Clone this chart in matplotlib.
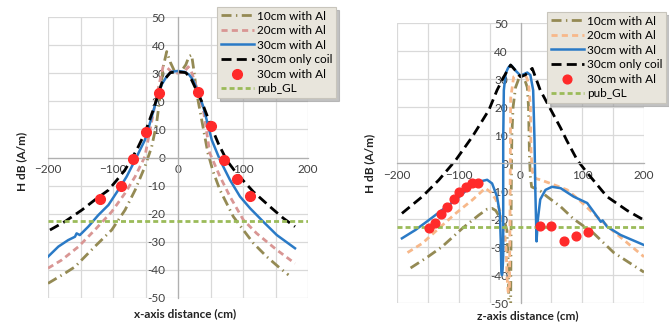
import matplotlib
matplotlib.use("Agg")
import matplotlib.pyplot as plt
from matplotlib.ticker import MultipleLocator, FuncFormatter

plt.rcParams['font.family'] = ['Lato', 'DejaVu Sans']

# ---------------- data: x-axis chart ----------------
xl_10 = [-200, -174, -158.5, -128, -102, -81.5, -66, -51, -40.5, -33, -27.7, -23, -17.4, -12, -6, 0, 6, 12, 17, 21, 25, 28.7, 36.5, 46, 54, 64.6, 85, 100.5, 116, 136.5, 157, 170]
yl_10 = [-44.8, -41.2, -38.9, -31.7, -25.8, -18.7, -11.6, -3.3, 3.8, 12, 21.6, 32, 37.7, 34, 31, 30.3, 31, 33, 36, 36.5, 30, 23, 13.3, 1.6, -5, -11.6, -21, -25.8, -30.5, -35.3, -39.4, -41.8]

xl_20 = [-200, -179, -153, -128, -102, -81.5, -66, -51, -38, -30, -23, -17, -10, 0, 10, 15.6, 20, 30, 39, 49, 64.6, 80, 100.5, 121, 152, 180]
yl_20 = [-39.4, -36.5, -31.7, -25.8, -19.3, -12.7, -6.8, 0.3, 15.8, 25, 32.3, 32, 30.5, 30, 30.5, 32.3, 31, 24, 16.9, 1.5, -6.8, -13.9, -22.2, -27, -32.9, -37.7]

xl_30 = [-200, -184, -169, -158.5, -156, -151, -138, -122.6, -107, -92, -79, -66, -51, -46, -33, -25, -17, -10, 0, 10, 17, 23, 30, 39, 52, 64.6, 80, 95.4, 111, 131, 152, 180]
yl_30 = [-35.3, -31.7, -29.4, -28.2, -27, -27.6, -24.6, -20.5, -16.9, -11.6, -6.8, -0.9, 6.2, 10, 20.5, 26, 29, 30.5, 30.8, 30.5, 29.5, 27.6, 24, 18, 6.2, -0.9, -8, -13.9, -18.1, -22.8, -27.6, -32.3]

xl_coil = [-197, -174, -148, -128, -107, -94, -81.5, -63.5, -51, -38, -25, -12, 0, 12, 21, 36.5, 52, 62, 75, 90, 116, 141.5, 162, 180]
yl_coil = [-25.8, -22.8, -18.7, -15.1, -11.6, -8, -4.4, 2.7, 8.7, 17, 26.5, 30.2, 30.5, 30.2, 27.6, 19.9, 10.5, 5, -1, -5.6, -12.2, -17.5, -21.6, -24.6]

xl_meas = [-120, -88, -69, -49, -29, 30, 50, 71, 90, 111]
yl_meas = [-14.8, -10, -0.5, 9.2, 23, 23.4, 11.2, -0.9, -7.7, -13.6]

# ---------------- data: z-axis chart ----------------
xr_10 = [-178, -150, -127, -94, -67.5, -54, -46, -40, -36, -26, -22, -20, -18.5, -16, -15, -14, -12, -8, -3, 3, 8, 11, 13, 14.6, 16, 18, 32, 43, 65, 86, 118, 151, 200]
yr_10 = [-37.5, -33.5, -29.9, -23.3, -18.6, -16.5, -16.2, -17, -18.5, -21, -24, -35, -55, -55, -10, 10, 20, 27, 30, 31, 29, 27, 20, 2, -5, -8.5, -10, -12, -15.6, -20, -25, -32, -39]

xr_20 = [-183, -159, -132, -105, -78, -57, -48, -40, -32, -26, -23, -22, -20, -18, -17, -16, -11, -5, 0, 5, 10, 13, 16, 17, 19, 24, 32, 48.6, 75.6, 94, 118, 151, 200]
yr_20 = [-32, -28.7, -23.3, -18, -13.2, -9, -10.5, -13, -18, -24, -32, -40, -46, -46, -20, 23, 30.8, 31.5, 31, 32, 30.5, 28.5, 20, 4.6, -3, -5.5, -6, -7.3, -9.6, -13, -18, -24.5, -33.5]

xr_30 = [-192, -170, -148.5, -127, -105, -84, -67.5, -54, -46, -38, -33.5, -32, -31, -30, -29, -28, -28, -27, -24, -20, -16, -13, -8, 0, 6, 11, 16, 20.5, 22.7, 24, 26, 28, 32, 40.5, 51, 65, 86, 108, 122, 130, 133, 140, 162, 200]
yr_30 = [-26.9, -23.9, -20.4, -16.8, -13.2, -9, -6.7, -6, -7.3, -12, -18, -27.5, -39, -40, -38, -33.5, 8, 26, 32, 34, 35, 34.4, 33, 31.2, 31.8, 32.3, 31.4, 26, 8, -9.6, -28, -20.4, -13, -9.6, -8.5, -9, -12, -14.3, -18.5, -21, -20.5, -22.7, -25.7, -29.3]

xr_coil = [-192, -159, -132, -105, -78, -65, -51, -38, -27, -16, -8, 0, 8, 19, 32, 43, 54, 65, 75, 92, 108, 140, 173, 200]
yr_coil = [-18, -12, -6, 1, 9.4, 14, 19, 26, 30.8, 35, 33, 30.8, 31.5, 33.8, 26, 21.5, 17, 12.5, 8, 1, -3.5, -12, -17, -20.4]

xr_meas = [-148.5, -138.8, -128.5, -118.8, -108, -98.8, -88, -78.3, -69, 31, 50, 70, 90, 110]
yr_meas = [-23.1, -21.3, -18.3, -15.8, -13, -10.2, -8.5, -7.3, -7, -22.4, -22.5, -27.9, -26, -24.5]

pub_gl = -22.7
labels = ["10cm with Al", "20cm with Al", "30cm with Al", "30cm only coil", "30cm with Al", "pub_GL"]

# ---------------- figure ----------------
fig = plt.figure(figsize=(6.69, 3.22), dpi=100)
axL = fig.add_axes([48/669, 24/322, 260/669, 281/322])
axR = fig.add_axes([397/669, 19/322, 247/669, 280/322])

C10 = '#948a54'
C30 = '#2a7ac6'
CGL = '#9bbb59'
CRED = '#ff2a2a'


def setup(ax):
    ax.set_xlim(-200, 200)
    ax.set_ylim(-50, 50)
    ax.xaxis.set_major_locator(MultipleLocator(100))
    ax.xaxis.set_minor_locator(MultipleLocator(50))
    ax.yaxis.set_major_locator(MultipleLocator(10))
    ax.grid(which='both', color='#d9d9d9', lw=0.9)
    ax.set_axisbelow(True)
    for s in ['top', 'right']:
        ax.spines[s].set_visible(False)
    for s in ['left', 'bottom']:
        ax.spines[s].set_position(('data', 0))
        ax.spines[s].set_color('#b0b0b0')
        ax.spines[s].set_linewidth(0.9)
    ax.tick_params(which='both', length=0, labelsize=8.5, labelcolor='#404040')
    ax.tick_params(axis='x', pad=5)
    ax.tick_params(axis='y', pad=9)
    ax.xaxis.set_major_formatter(FuncFormatter(lambda v, p: f"{int(v)}".replace('-', '\u2212')))
    ax.yaxis.set_major_formatter(FuncFormatter(lambda v, p: f"{int(v)}"))
    ax.patch.set_alpha(0)


def draw(ax, x10, y10, x20, y20, c20, x30, y30, xc, yc, xm, ym, ms):
    h = []
    h += ax.plot(x10, y10, color=C10, lw=2, ls=(0, (3.6, 1.6, 0.5, 1.6)))
    h += ax.plot(x20, y20, color=c20, lw=2, ls=(0, (2.2, 1.5)))
    h += ax.plot(x30, y30, color=C30, lw=1.8)
    h += ax.plot(xc, yc, color='black', lw=2, ls=(0, (3.6, 1.9)))
    h += ax.plot(xm, ym, ls='none', marker='o', ms=ms, color=CRED, mec=CRED, zorder=4)
    h += ax.plot([-200, 200], [pub_gl, pub_gl], color=CGL, lw=2, ls=(0, (1.8, 1.1)), zorder=3)
    return h


setup(axL)
setup(axR)
hL = draw(axL, xl_10, yl_10, xl_20, yl_20, '#d99694', xl_30, yl_30, xl_coil, yl_coil, xl_meas, yl_meas, 7)
hR = draw(axR, xr_10, yr_10, xr_20, yr_20, '#f7b88a', xr_30, yr_30, xr_coil, yr_coil, xr_meas, yr_meas, 6.3)

for ax, h, anchor in [(axL, hL, (217/669, 1 - 7/322)), (axR, hR, (547/669, 1 - 12/322))]:
    leg = fig.legend(h, labels, loc='upper left', bbox_to_anchor=anchor, bbox_transform=fig.transFigure,
                     fontsize=8.5, frameon=True, fancybox=False, framealpha=1, facecolor='#e8e5dc',
                     edgecolor='#c8c5bc', shadow={'color': '#9a9a9a', 'alpha': 0.6},
                     handlelength=2.8, handletextpad=0.3, labelspacing=0.3, borderpad=0.3,
                     borderaxespad=0, numpoints=1)
    leg.get_frame().set_linewidth(0.8)

fig.text(22/669, 1 - 161/322, "H dB (A/m)", rotation=90, ha='center', va='center', fontsize=8.5, fontweight='bold', color='#222222')
fig.text(370/669, 1 - 163/322, "H dB (A/m)", rotation=90, ha='center', va='center', fontsize=8.5, fontweight='bold', color='#222222')
fig.text(185/669, 1 - 314/322, "x-axis distance (cm)", ha='center', va='center', fontsize=8.5, fontweight='bold', color='#222222')
fig.text(528/669, 1 - 316/322, "z-axis distance (cm)", ha='center', va='center', fontsize=8.5, fontweight='bold', color='#222222')

fig.savefig("out.png", dpi=100)
